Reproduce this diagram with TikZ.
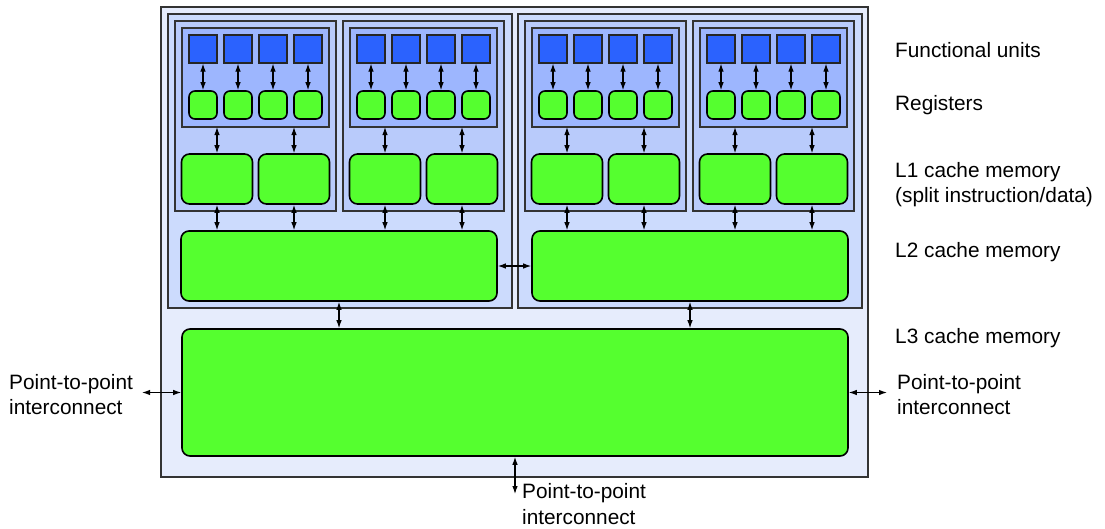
\documentclass[tikz,border=0pt]{standalone}
\usepackage{fontspec}
\setmainfont{Liberation Sans}
\usetikzlibrary{positioning, arrows.meta}

\definecolor{chipfill}{HTML}{E6ECFC}
\definecolor{socketfill}{HTML}{CCDBFD}
\definecolor{corefill}{HTML}{B9CBFB}
\definecolor{unitfill}{HTML}{9DB6FE}
\definecolor{fublue}{HTML}{2B62FE}
\definecolor{cachegreen}{HTML}{55FF2F}

\begin{document}
\begin{tikzpicture}[x=1pt, y=-1pt,
    frame/.style={draw=black!80, line width=1.1pt, inner sep=0pt, outer sep=0pt},
    unit/.style={draw=black!85, line width=1.2pt, fill=fublue, minimum size=28pt, inner sep=0pt},
    reg/.style={draw, line width=1.6pt, fill=cachegreen, rounded corners=6pt, minimum size=28pt, inner sep=0pt},
    cache/.style={draw, line width=1.6pt, fill=cachegreen, rounded corners=8pt, inner sep=0pt},
    link/.style={{Latex[length=8pt,width=5.5pt]}-{Latex[length=8pt,width=5.5pt]}, line width=1.1pt},
    lbl/.style={font=\fontsize{20.8}{25.5}\selectfont, align=left, inner sep=0pt, anchor=base west}]
    \useasboundingbox (0,0) rectangle (1105,528);

    % Containers
    \node[frame, fill=chipfill, minimum width=707pt, minimum height=470pt] (chip) at (514.5,242) {};
    \node[frame, fill=socketfill, minimum width=344pt, minimum height=294pt] (socketA) at (340,161) {};
    \node[frame, fill=socketfill, minimum width=344pt, minimum height=294pt] (socketB) at (690,161) {};

    % Shared caches
    \node[cache, minimum width=316pt, minimum height=70pt] (ltwoA) at (339,266) {};
    \node[cache, minimum width=316pt, minimum height=70pt] (ltwoB) at (690,266) {};
    \node[cache, minimum width=666pt, minimum height=127pt] (lthree) at (515,392.5) {};

    % Cores
    \foreach \c/\cx/\s in {1/255.5/A, 2/423.5/A, 3/605.5/B, 4/773.5/B} {
        \node[frame, fill=corefill, minimum width=161pt, minimum height=190pt] (core-\c) at (\cx,116) {};
        \node[frame, fill=unitfill, minimum width=147pt, minimum height=99pt] (regs-\c) at (\cx,77.5) {};
        \foreach \k/\dx in {1/-52.5, 2/-17.5, 3/17.5, 4/52.5} {
            \node[unit] (fu-\c-\k) at (\cx+\dx,49) {};
            \node[reg] (reg-\c-\k) at (\cx+\dx,105) {};
            \draw[link] (fu-\c-\k) -- (reg-\c-\k);
        }
        \node[cache, minimum width=71pt, minimum height=50pt] (lA-\c) at (\cx-38.5,179) {};
        \node[cache, minimum width=71pt, minimum height=50pt] (lB-\c) at (\cx+38.5,179) {};
        \draw[link] (lA-\c.north |- regs-\c.south) -- (lA-\c.north);
        \draw[link] (lB-\c.north |- regs-\c.south) -- (lB-\c.north);
        \draw[link] (lA-\c.south) -- (lA-\c.south |- ltwo\s.north);
        \draw[link] (lB-\c.south) -- (lB-\c.south |- ltwo\s.north);
    }

    % Links between caches
    \draw[link] (ltwoA) -- (ltwoB);
    \draw[link] (ltwoA.south) -- (ltwoA.south |- lthree.north);
    \draw[link] (ltwoB.south) -- (ltwoB.south |- lthree.north);

    % Interconnects
    \coordinate (westend) at (142,392.5);
    \coordinate (eastend) at (887,392.5);
    \coordinate (southend) at (515,494);
    \draw[link] (westend) -- (lthree.west);
    \draw[link] (lthree.east) -- (eastend);
    \draw[link] (lthree.south) -- (southend);

    % Labels (base is the last line)
    \node[lbl] (fulabel) at (895,57) {Functional units};
    \node[lbl] (reglabel) at (895,110) {Registers};
    \node[lbl] (lonelabel) at (895,202.5) {L1 cache memory\\(split instruction/data)};
    \node[lbl] (ltwolabel) at (895,257) {L2 cache memory};
    \node[lbl] (lthreelabel) at (895,343) {L3 cache memory};
    \node[lbl] (eastlabel) at (897,414.5) {Point-to-point\\interconnect};
    \node[lbl] (westlabel) at (9,414.5) {Point-to-point\\interconnect};
    \node[lbl] (southlabel) at (522,524) {Point-to-point\\interconnect};
\end{tikzpicture}
\end{document}
